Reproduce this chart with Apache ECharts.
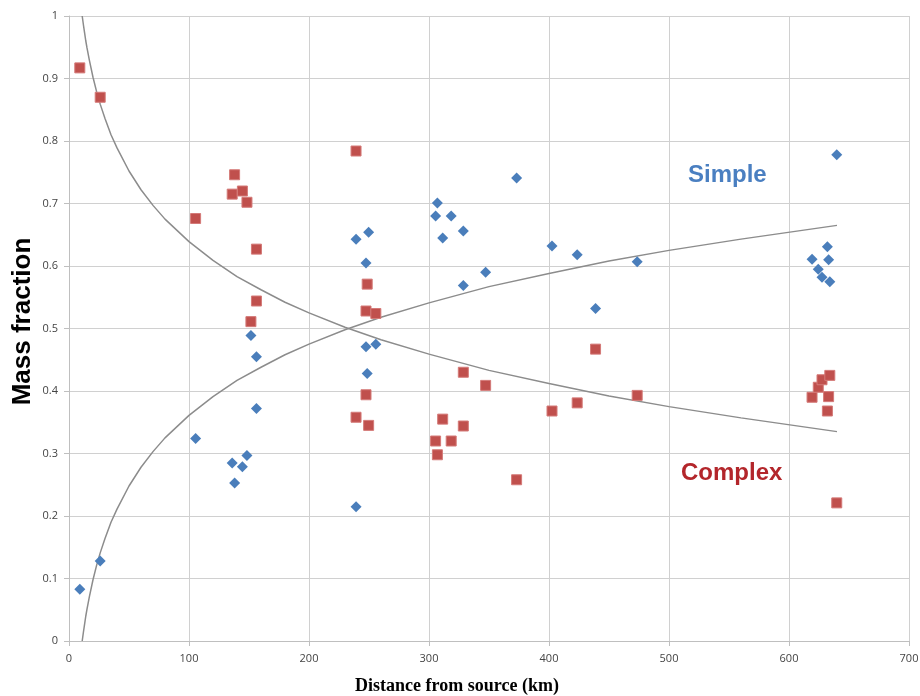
<!DOCTYPE html>
<html>
<head>
<meta charset="utf-8">
<script src="https://cdn.jsdelivr.net/npm/echarts@6/dist/echarts.min.js"></script>
<style>
  html, body { margin: 0; padding: 0; background: #fff; }
  #chart { width: 920px; height: 696px; }
</style>
</head>
<body>
<div id="chart"></div>
<script>
// distance from source (km), one entry per sample
const distance = [
    9, 26, 105.5, 136, 138, 144.5, 148.3, 156.2, 156.2, 151.6,
    239.2, 249.7, 247.5, 247.5, 255.7, 248.5, 239.2,
    307, 305.5, 318.5, 311.4, 328.6, 347.2, 328.6, 373,
    402.5, 423.5, 438.8, 473.5,
    639.8, 632, 619.2, 633, 624.4, 627.5, 634
];
const simpleFrac = [
    0.083, 0.128, 0.324, 0.285, 0.253, 0.279, 0.297, 0.372, 0.455, 0.489,
    0.643, 0.654, 0.605, 0.471, 0.475, 0.428, 0.215,
    0.701, 0.680, 0.680, 0.645, 0.656, 0.590, 0.569, 0.741,
    0.632, 0.618, 0.532, 0.607,
    0.778, 0.631, 0.611, 0.610, 0.595, 0.582, 0.575
];
const complexFrac = [
    0.917, 0.870, 0.676, 0.715, 0.746, 0.720, 0.702, 0.627, 0.544, 0.511,
    0.358, 0.345, 0.394, 0.528, 0.524, 0.571, 0.784,
    0.298, 0.320, 0.320, 0.355, 0.344, 0.409, 0.430, 0.258,
    0.368, 0.381, 0.467, 0.393,
    0.221, 0.368, 0.390, 0.391, 0.406, 0.418, 0.425
];

// trend curves
const trendX = [11, 12, 13, 14, 15, 17, 20, 23, 26, 30, 35, 40, 50, 60, 70, 80, 100, 120, 140, 160,
    180, 200, 230, 260, 300, 350, 400, 450, 500, 560, 640];
const simpleTrend = [0, 0.014, 0.027, 0.040, 0.051, 0.071, 0.098, 0.121, 0.141, 0.164, 0.190, 0.211,
    0.248, 0.278, 0.303, 0.325, 0.361, 0.391, 0.417, 0.438, 0.458, 0.475, 0.498, 0.518, 0.541,
    0.567, 0.588, 0.608, 0.625, 0.643, 0.665];
const complexTrend = [1, 0.986, 0.973, 0.960, 0.949, 0.929, 0.902, 0.879, 0.859, 0.836, 0.810, 0.789,
    0.752, 0.722, 0.697, 0.675, 0.639, 0.609, 0.583, 0.562, 0.542, 0.525, 0.502, 0.482, 0.459,
    0.433, 0.412, 0.392, 0.375, 0.357, 0.335];

function pairs(xs, ys) {
    return xs.map((x, i) => [x, ys[i]]);
}

let chart = echarts.init(document.getElementById('chart'));

const tickLabel = { color: '#444', fontSize: 11, fontFamily: 'Open Sans' };
const trendStyle = { color: '#8c8c8c', width: 1.5 };

chart.setOption({
    animation: false,
    grid: { left: 69, right: 11, top: 16, bottom: 55, outerBoundsMode: 'none' },
    xAxis: {
        type: 'value',
        min: 0, max: 700, interval: 100,
        name: 'Distance from source (km)',
        nameLocation: 'middle',
        nameGap: 36,
        nameMoveOverlap: false,
        nameTextStyle: {
            fontFamily: 'Liberation Serif', fontWeight: 'bold', fontSize: 18,
            color: '#000', padding: [0, 64, 0, 0]
        },
        axisLine: { lineStyle: { color: '#bfbfbf' } },
        axisTick: { show: true, length: 5, lineStyle: { color: '#bfbfbf' } },
        axisLabel: Object.assign({ margin: 12 }, tickLabel),
        splitLine: { lineStyle: { color: '#d0d0d0' } }
    },
    yAxis: {
        type: 'value',
        min: 0, max: 1, interval: 0.1,
        name: 'Mass fraction',
        nameLocation: 'middle',
        nameGap: 33,
        nameMoveOverlap: false,
        nameTextStyle: {
            fontFamily: 'Liberation Sans', fontWeight: 'bold', fontSize: 26,
            color: '#000', padding: [0, 0, 0, 14]
        },
        axisLine: { show: true, lineStyle: { color: '#bfbfbf' } },
        axisTick: { show: true, length: 5, lineStyle: { color: '#bfbfbf' } },
        axisLabel: Object.assign({ margin: 11 }, tickLabel),
        splitLine: { lineStyle: { color: '#d0d0d0' } }
    },
    graphic: [
        {
            type: 'text', left: 688, top: 163,
            style: { text: 'Simple', fill: '#4a7fc1', font: 'bold 24px "Liberation Sans"' }
        },
        {
            type: 'text', left: 681, top: 461,
            style: { text: 'Complex', fill: '#b3262b', font: 'bold 24px "Liberation Sans"' }
        }
    ],
    series: [
        {
            name: 'Simple trend',
            type: 'line',
            data: pairs(trendX, simpleTrend),
            showSymbol: false,
            lineStyle: trendStyle,
            z: 1
        },
        {
            name: 'Complex trend',
            type: 'line',
            data: pairs(trendX, complexTrend),
            showSymbol: false,
            lineStyle: trendStyle,
            z: 1
        },
        {
            name: 'Simple',
            type: 'scatter',
            data: pairs(distance, simpleFrac),
            symbol: 'diamond',
            symbolSize: 11,
            itemStyle: { color: '#4a7ebb', opacity: 1 },
            z: 3
        },
        {
            name: 'Complex',
            type: 'scatter',
            data: pairs(distance, complexFrac),
            symbol: 'rect',
            symbolSize: 10,
            itemStyle: { color: '#c0504d', borderColor: '#d47a78', borderWidth: 1, opacity: 1 },
            z: 3
        }
    ]
});
</script>
</body>
</html>
